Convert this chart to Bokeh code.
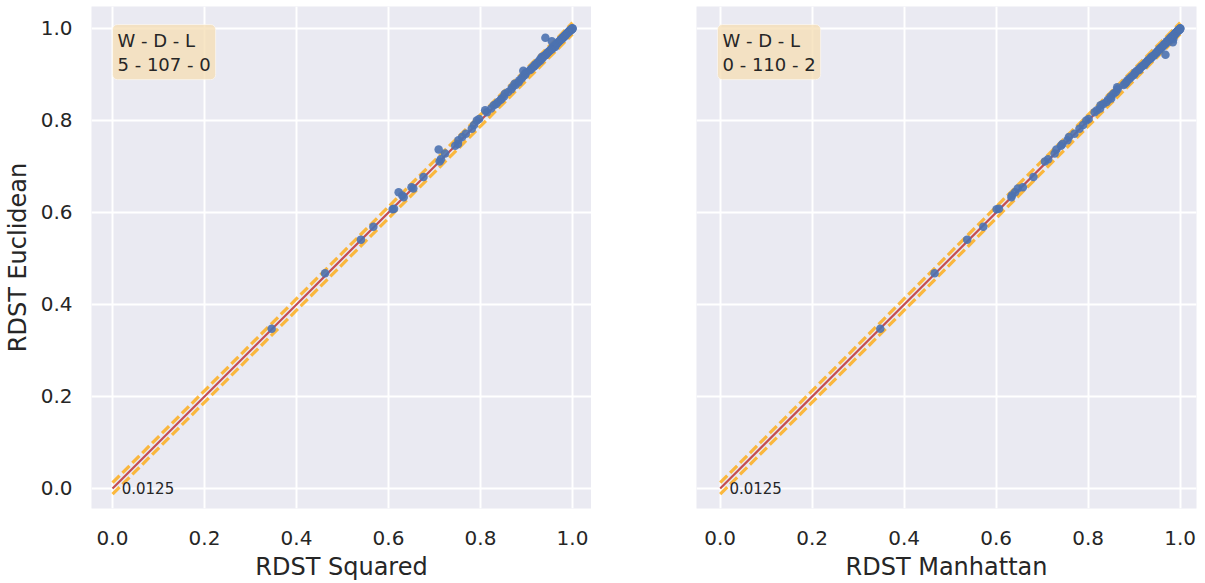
from bokeh.plotting import figure
from bokeh.layouts import row
from bokeh.models import Range1d, FixedTicker, Label, ColumnDataSource
from bokeh.core.properties import value
from bokeh.embed import file_html
from bokeh.resources import INLINE

# ---------------- data ----------------
euclidean = [0.347, 0.468, 0.541, 0.569, 0.607, 0.608, 0.633, 0.637, 0.644, 0.652,
             0.655, 0.677, 0.711, 0.716, 0.728, 0.737, 0.745, 0.749, 0.757, 0.764,
             0.771, 0.782, 0.790, 0.800, 0.803, 0.818, 0.822, 0.826, 0.833, 0.836,
             0.840, 0.845, 0.848, 0.852, 0.858, 0.862, 0.868, 0.872, 0.877, 0.880,
             0.883, 0.887, 0.891, 0.895, 0.899, 0.902, 0.905, 0.908, 0.910, 0.912,
             0.915, 0.918, 0.920, 0.922, 0.925, 0.927, 0.930, 0.932, 0.934, 0.936,
             0.938, 0.940, 0.942, 0.943, 0.945, 0.947, 0.949, 0.951, 0.953, 0.955,
             0.957, 0.959, 0.960, 0.962, 0.964, 0.966, 0.967, 0.969, 0.970, 0.972,
             0.973, 0.975, 0.976, 0.977, 0.978, 0.980, 0.980, 0.981, 0.982, 0.983,
             0.984, 0.985, 0.986, 0.987, 0.988, 0.989, 0.990, 0.991, 0.992, 0.993,
             0.994, 0.995, 0.995, 0.996, 0.997, 0.997, 0.998, 0.998, 0.999, 1.000,
             1.000, 1.000]
squared = [0.346, 0.462, 0.540, 0.567, 0.609, 0.612, 0.633, 0.630, 0.622, 0.654,
           0.650, 0.676, 0.711, 0.714, 0.723, 0.709, 0.745, 0.751, 0.752, 0.760,
           0.768, 0.781, 0.786, 0.792, 0.797, 0.814, 0.810, 0.823, 0.829, 0.834,
           0.838, 0.844, 0.846, 0.851, 0.853, 0.860, 0.867, 0.869, 0.876, 0.874,
           0.883, 0.884, 0.889, 0.892, 0.897, 0.897, 0.900, 0.893, 0.908, 0.910,
           0.913, 0.917, 0.918, 0.920, 0.924, 0.925, 0.930, 0.929, 0.932, 0.935,
           0.933, 0.938, 0.941, 0.942, 0.944, 0.946, 0.947, 0.950, 0.952, 0.955,
           0.956, 0.957, 0.962, 0.960, 0.963, 0.965, 0.966, 0.968, 0.969, 0.955,
           0.972, 0.974, 0.975, 0.976, 0.978, 0.941, 0.979, 0.980, 0.981, 0.983,
           0.983, 0.984, 0.985, 0.986, 0.987, 0.988, 0.989, 0.990, 0.991, 0.992,
           0.993, 0.994, 0.995, 0.995, 0.996, 0.997, 0.997, 0.998, 0.999, 0.999,
           1.000, 1.000]
manhattan = [0.348, 0.466, 0.537, 0.572, 0.601, 0.606, 0.633, 0.634, 0.641, 0.647,
             0.658, 0.681, 0.706, 0.713, 0.727, 0.731, 0.741, 0.744, 0.755, 0.758,
             0.770, 0.781, 0.789, 0.796, 0.801, 0.814, 0.819, 0.826, 0.827, 0.833,
             0.840, 0.843, 0.850, 0.849, 0.855, 0.860, 0.864, 0.863, 0.877, 0.880,
             0.883, 0.885, 0.890, 0.894, 0.899, 0.901, 0.903, 0.906, 0.911, 0.911,
             0.914, 0.917, 0.921, 0.923, 0.925, 0.927, 0.929, 0.932, 0.935, 0.937,
             0.937, 0.941, 0.943, 0.968, 0.946, 0.948, 0.950, 0.951, 0.954, 0.955,
             0.957, 0.960, 0.960, 0.963, 0.964, 0.966, 0.968, 0.970, 0.984, 0.971,
             0.974, 0.975, 0.977, 0.985, 0.978, 0.979, 0.981, 0.982, 0.983, 0.983,
             0.985, 0.986, 0.987, 0.988, 0.988, 0.990, 0.990, 0.991, 0.992, 0.993,
             0.994, 0.995, 0.996, 0.996, 0.997, 0.998, 0.998, 0.999, 0.999, 1.000,
             1.000, 1.000]

diag = [0.0, 1.0]
margin_value = 0.0125
ticks = [0.0, 0.2, 0.4, 0.6, 0.8, 1.0]
tick_labels = ["0.0", "0.2", "0.4", "0.6", "0.8", "1.0"]
x_titles = ["RDST Squared", "RDST Manhattan"]
y_title = "RDST Euclidean"
wdl_texts = ["W - D - L\n5 - 107 - 0", "W - D - L\n0 - 110 - 2"]
margin_text = "0.0125"

# ---------------- style ----------------
FONT = "DejaVu Sans"
BG = "#eaeaf2"
TXT = "#262626"
BLUE = "#4c72b0"
RED = "#c44e52"
ORANGE = "#ffa500"
FW, FH = 500, 502


def make_panel(xvals, xtitle, wdl, first):
    xr = Range1d(-0.0457, -0.0457 + FW / 460) if first else Range1d(-0.0515, -0.0515 + FW / 460)
    p = figure(frame_width=FW, frame_height=FH,
               x_range=xr,
               y_range=Range1d(1.0478 - FH / 460, 1.0478),
               output_backend="svg", toolbar_location=None,
               background_fill_color=BG, border_fill_color="white",
               min_border_top=6, min_border_bottom=0,
               min_border_left=80 if first else 105,
               min_border_right=0 if first else 1)
    p.outline_line_color = None
    for ax in (p.xaxis[0], p.yaxis[0]):
        ax.ticker = FixedTicker(ticks=ticks)
        ax.major_label_overrides = {t: l for t, l in zip(ticks, tick_labels)}
        ax.axis_line_color = None
        ax.major_tick_line_color = None
        ax.minor_tick_line_color = None
        ax.major_label_text_font = FONT
        ax.major_label_text_font_size = "20px"
        ax.major_label_text_color = TXT
        ax.axis_label_text_font = FONT
        ax.axis_label_text_font_size = "24px"
        ax.axis_label_text_font_style = "normal"
        ax.axis_label_text_color = TXT
    p.xaxis.major_label_standoff = 16
    p.xaxis.axis_label_standoff = 5
    p.xaxis.axis_label = xtitle
    p.yaxis.major_label_standoff = 13
    p.yaxis.axis_label_standoff = 6
    if first:
        p.yaxis.axis_label = y_title
    else:
        p.yaxis.visible = False
    p.grid.grid_line_color = "white"
    p.grid.grid_line_width = 2

    src = ColumnDataSource(dict(x=xvals, y=euclidean))
    p.line(diag, diag, line_color=RED, line_width=2.2)
    p.line(diag, [d + margin_value for d in diag], line_color=ORANGE,
           line_width=3.2, line_alpha=0.75, line_dash="10 4")
    p.line(diag, [d - margin_value for d in diag], line_color=ORANGE,
           line_width=3.2, line_alpha=0.75, line_dash="10 4")
    p.scatter("x", "y", source=src, size=8.5, fill_color=BLUE, line_color=None,
              fill_alpha=0.9)
    p.text(x=[0.02], y=[0.0], text=[margin_text], text_font=value(FONT),
           text_font_size="15px", text_color=TXT, text_baseline="alphabetic")

    lab = Label(x=21, y=FH - 18, x_units="screen", y_units="screen", text=wdl,
                text_font=FONT, text_font_size="18px", text_color=TXT,
                text_align="left", text_baseline="top", text_line_height=1.15,
                background_fill_color="#f5deb3", background_fill_alpha=0.75,
                border_line_color="white", border_line_alpha=0.5,
                padding=5, border_radius=5)
    p.add_layout(lab)
    return p


p1 = make_panel(squared, x_titles[0], wdl_texts[0], True)
p2 = make_panel(manhattan, x_titles[1], wdl_texts[1], False)
layout = row(p1, p2, spacing=0)

open("out.html", "w").write(file_html(layout, INLINE))
